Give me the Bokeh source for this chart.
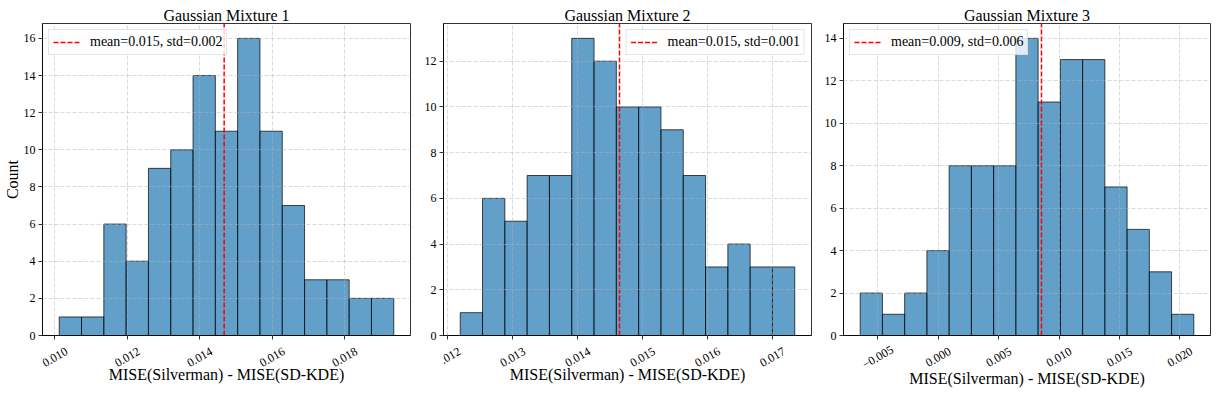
import math
import numpy as np
from bokeh.plotting import figure
from bokeh.layouts import row, column
from bokeh.models import Range1d, FixedTicker, CustomJSTickFormatter
from bokeh.core.properties import value
from bokeh.embed import file_html
from bokeh.resources import INLINE

# ---------------- data ----------------
titles = ["Gaussian Mixture 1", "Gaussian Mixture 2", "Gaussian Mixture 3"]
counts1 = [1, 1, 6, 4, 9, 10, 14, 11, 16, 11, 7, 3, 3, 2, 2]
counts2 = [1, 6, 5, 7, 7, 13, 12, 10, 10, 9, 7, 3, 4, 3, 3]
counts3 = [2, 1, 2, 4, 8, 8, 8, 14, 11, 13, 13, 7, 5, 3, 1]
bin_lo = [0.01012, 0.01219, -0.00646]
bin_hi = [0.019355, 0.017345, 0.021156]
means = [0.014673, 0.014644, 0.008546]
legend_labels = ["mean=0.015, std=0.002", "mean=0.015, std=0.001",
                 "mean=0.009, std=0.006"]
legend_locs = ["top_left", "top_right", "top_left"]
xticks1 = [0.010, 0.012, 0.014, 0.016, 0.018]
xtick_labels1 = ["0.010", "0.012", "0.014", "0.016", "0.018"]
xticks2 = [0.012, 0.013, 0.014, 0.015, 0.016, 0.017]
xtick_labels2 = ["0.012", "0.013", "0.014", "0.015", "0.016", "0.017"]
xticks3 = [-0.005, 0.000, 0.005, 0.010, 0.015, 0.020]
xtick_labels3 = ["\u22120.005", "0.000", "0.005", "0.010", "0.015", "0.020"]
yticks1 = [0, 2, 4, 6, 8, 10, 12, 14, 16]
yticks2 = [0, 2, 4, 6, 8, 10, 12]
yticks3 = [0, 2, 4, 6, 8, 10, 12, 14]
xlabel = "MISE(Silverman) - MISE(SD-KDE)"
ylabel = "Count"

FONT = "Liberation Serif"

all_counts = [counts1, counts2, counts3]
all_xticks = [xticks1, xticks2, xticks3]
all_xlabels = [xtick_labels1, xtick_labels2, xtick_labels3]
all_yticks = [yticks1, yticks2, yticks3]

# ---------------- layout (pixels) ----------------
frame_widths = [368, 368, 367]
left_borders = [42, 28, 28]
right_borders = [5, 4, 6]
MAIN_TOP = 23
MAIN_FRAME_H = 312
MAIN_BOTTOM = 7
STRIP_FRAME_H = 30
STRIP_BOTTOM = 23
TICKLABEL_Y = 15.5        # centre of rotated tick labels inside strip
xlabel_standoffs = [-7, -7, -3]


def make(i):
    counts = all_counts[i]
    edges = np.linspace(bin_lo[i], bin_hi[i], len(counts) + 1)
    span = bin_hi[i] - bin_lo[i]
    xr = Range1d(bin_lo[i] - 0.05 * span, bin_hi[i] + 0.05 * span)
    ytop = max(counts) * 1.05

    p = figure(frame_width=frame_widths[i], frame_height=MAIN_FRAME_H,
               output_backend="svg", toolbar_location=None, title=titles[i],
               x_range=xr, y_range=Range1d(0, ytop),
               min_border_left=left_borders[i],
               min_border_right=right_borders[i],
               min_border_top=MAIN_TOP, min_border_bottom=MAIN_BOTTOM)
    p.background_fill_color = "white"
    p.border_fill_color = "white"
    p.outline_line_color = "black"
    p.outline_line_width = 0.8

    p.title.text_font = FONT
    p.title.text_font_size = "16px"
    p.title.text_font_style = "normal"
    p.title.text_color = "black"
    p.title.align = "center"
    p.title.standoff = 0

    p.quad(left=edges[:-1], right=edges[1:], top=counts, bottom=0,
           fill_color="#1f77b4", fill_alpha=0.7,
           line_color="black", line_alpha=0.7, line_width=1)

    p.line(x=[means[i], means[i]], y=[0, ytop], line_color="#ff0000",
           line_dash="5 2", line_width=1.5, legend_label=legend_labels[i])

    for ax in (p.xaxis, p.yaxis):
        ax.axis_line_color = "black"
        ax.axis_line_width = 0.8
        ax.major_tick_line_color = "black"
        ax.major_tick_line_width = 0.8
        ax.major_tick_out = 4
        ax.major_tick_in = 0
        ax.minor_tick_out = 0
        ax.minor_tick_in = 0
        ax.major_label_text_font = FONT
        ax.major_label_text_font_size = "12px"
        ax.major_label_text_color = "black"
        ax.axis_label_text_font = FONT
        ax.axis_label_text_font_size = "16px"
        ax.axis_label_text_font_style = "normal"
        ax.axis_label_text_color = "black"

    p.xaxis.ticker = FixedTicker(ticks=all_xticks[i])
    p.xaxis.formatter = CustomJSTickFormatter(code="return ''")
    p.xaxis.major_label_standoff = 0

    p.yaxis.ticker = FixedTicker(ticks=all_yticks[i])
    p.yaxis.major_label_standoff = 3
    if i == 0:
        p.yaxis.axis_label = ylabel
        p.yaxis.axis_label_standoff = 0

    p.xgrid.ticker = FixedTicker(ticks=all_xticks[i])
    p.ygrid.ticker = FixedTicker(ticks=all_yticks[i])
    p.grid.grid_line_color = "#b0b0b0"
    p.grid.grid_line_alpha = 0.6
    p.grid.grid_line_dash = "4 2"
    p.grid.grid_line_width = 0.8
    p.grid.level = "guide"

    lg = p.legend[0]
    lg.location = legend_locs[i]
    lg.label_text_font = FONT
    lg.label_text_font_size = "14px"
    lg.label_text_color = "black"
    lg.border_line_color = "#cccccc"
    lg.border_line_width = 1
    lg.background_fill_color = "white"
    lg.background_fill_alpha = 0.8
    lg.padding = 4
    lg.margin = 6
    lg.glyph_width = 28
    lg.glyph_height = 14
    lg.label_height = 14
    lg.label_standoff = 9
    lg.spacing = 0

    # strip below: rotated, centred tick labels and the x axis label
    s = figure(frame_width=frame_widths[i], frame_height=STRIP_FRAME_H,
               output_backend="svg", toolbar_location=None,
               x_range=xr, y_range=Range1d(0, STRIP_FRAME_H),
               y_axis_location=None,
               min_border_left=left_borders[i],
               min_border_right=right_borders[i],
               min_border_top=0, min_border_bottom=STRIP_BOTTOM)
    s.background_fill_color = "white"
    s.border_fill_color = "white"
    s.outline_line_color = None
    s.grid.visible = False
    n = len(all_xticks[i])
    s.text(x=all_xticks[i], y=[TICKLABEL_Y] * n, text=all_xlabels[i],
           angle=math.pi / 6, text_align="center", text_baseline="middle",
           text_font=value(FONT), text_font_size=value("12px"),
           text_color="black")
    ax = s.xaxis[0]
    ax.ticker = FixedTicker(ticks=all_xticks[i])
    ax.formatter = CustomJSTickFormatter(code="return ''")
    ax.axis_line_color = None
    ax.major_tick_line_color = None
    ax.minor_tick_line_color = None
    ax.major_tick_out = 0
    ax.major_tick_in = 0
    ax.minor_tick_out = 0
    ax.minor_tick_in = 0
    ax.major_label_standoff = 0
    ax.axis_label = xlabel
    ax.axis_label_standoff = xlabel_standoffs[i]
    ax.axis_label_text_font = FONT
    ax.axis_label_text_font_size = "16px"
    ax.axis_label_text_font_style = "normal"
    ax.axis_label_text_color = "black"
    return column(p, s)


layout = row(*[make(i) for i in range(3)])
open("out.html", "w").write(file_html(layout, INLINE))
